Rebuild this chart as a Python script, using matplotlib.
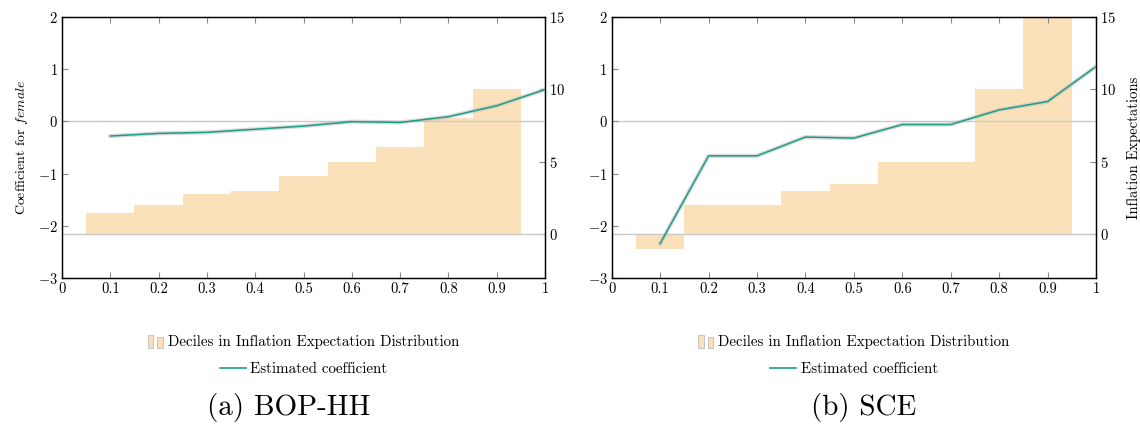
import matplotlib
matplotlib.use("Agg")
import matplotlib.pyplot as plt
from matplotlib.patches import Rectangle
from matplotlib.legend_handler import HandlerBase
from matplotlib.lines import Line2D

plt.rcParams['font.family'] = 'serif'
plt.rcParams['font.serif'] = ['cmr10']
plt.rcParams['mathtext.fontset'] = 'cm'
plt.rcParams['axes.formatter.use_mathtext'] = True
plt.rcParams['axes.unicode_minus'] = True

# ---- data ----
quantiles = [0.1, 0.2, 0.3, 0.4, 0.5, 0.6, 0.7, 0.8, 0.9, 1.0]
bar_centers = [0.1, 0.2, 0.3, 0.4, 0.5, 0.6, 0.7, 0.8, 0.9]

bop_coef = [-0.28, -0.23, -0.21, -0.15, -0.09, -0.005, -0.02, 0.09, 0.30, 0.61]
bop_deciles = [1.5, 2.0, 2.8, 3.0, 4.0, 5.0, 6.0, 8.0, 10.0]

sce_coef = [-2.34, -0.66, -0.66, -0.30, -0.32, -0.06, -0.06, 0.22, 0.38, 1.05]
sce_deciles = [-1.0, 2.0, 2.0, 3.0, 3.5, 5.0, 5.0, 10.0, 15.0]

xticks = [0, 0.1, 0.2, 0.3, 0.4, 0.5, 0.6, 0.7, 0.8, 0.9, 1]
xticklabels = ['0', '0.1', '0.2', '0.3', '0.4', '0.5', '0.6', '0.7', '0.8', '0.9', '1']
left_yticks = [-3, -2, -1, 0, 1, 2]
right_yticks = [0, 5, 10, 15]
captions = ['(a) BOP-HH', '(b) SCE']
legend_labels = ['Deciles in Inflation Expectation Distribution', 'Estimated coefficient']

bar_color = '#fbe1b9'
line_color = '#1b9e86'
grid_gray = '#c8c8c8'


class TwoBarHandler(HandlerBase):
    def create_artists(self, legend, orig_handle, xdescent, ydescent,
                       width, height, fontsize, trans):
        w = width * 0.36
        h = height * 1.3
        y0 = -ydescent - 0.2 * height
        r1 = Rectangle((xdescent, y0), w, h,
                       facecolor=bar_color, edgecolor='#c4c4c4', lw=0.7, transform=trans)
        r2 = Rectangle((xdescent + width * 0.62, y0), w, h * 0.85,
                       facecolor=bar_color, edgecolor='#c4c4c4', lw=0.7, transform=trans)
        return [r1, r2]


fig = plt.figure(figsize=(11.4, 4.3), dpi=100)
positions = [[0.0544, 0.3535, 0.4237, 0.607], [0.5366, 0.3535, 0.4248, 0.607]]
coefs = [bop_coef, sce_coef]
deciles = [bop_deciles, sce_deciles]
caption_x = [289 / 1140, 864 / 1140]

for i in range(2):
    ax = fig.add_axes(positions[i])
    ax2 = ax.twinx()
    ax2.bar(bar_centers, deciles[i], width=0.1, color=bar_color, edgecolor='none', zorder=1)
    ax2.axhline(0, color=grid_gray, lw=1.0, zorder=2)
    ax2.set_ylim(-3, 15)
    ax2.set_yticks(right_yticks)
    ax.set_zorder(ax2.get_zorder() + 1)
    ax.patch.set_visible(False)
    ax.axhline(0, color=grid_gray, lw=1.0, zorder=1)
    ax.plot(quantiles, coefs[i], color='#bdbdbd', lw=3.0, alpha=0.55, zorder=2)
    ax.plot(quantiles, coefs[i], color=line_color, lw=1.1, zorder=3)
    ax.set_xlim(0, 1)
    ax.set_ylim(-3, 2)
    ax.set_xticks(xticks)
    ax.set_xticklabels(xticklabels)
    ax.set_yticks(left_yticks)
    for a in (ax, ax2):
        a.tick_params(direction='in', length=4, width=0.8, color='#888888', labelsize=10.5, pad=3)
        for s in a.spines.values():
            s.set_linewidth(0.9)
    ax.tick_params(axis='x', top=True)
    if i == 0:
        ax.set_ylabel(r'Coefficient for $\mathit{female}$', fontsize=10, labelpad=6)
    else:
        ax2.set_ylabel('Inflation Expectations', fontsize=10.5, labelpad=8)

    cx = positions[i][0] + positions[i][2] / 2
    leg1 = fig.legend([Rectangle((0, 0), 1, 1, facecolor=bar_color)], [legend_labels[0]],
                      loc='center', bbox_to_anchor=(cx, 1 - 342 / 430), frameon=False,
                      fontsize=10.8, handlelength=1.0, handletextpad=0.3, borderpad=0,
                      handler_map={Rectangle: TwoBarHandler()})
    leg2 = fig.legend([Line2D([0], [0], color=line_color, lw=1.2)], [legend_labels[1]],
                      loc='center', bbox_to_anchor=(cx, 1 - 369 / 430), frameon=False,
                      fontsize=10.8, handlelength=1.75, handletextpad=0.3, borderpad=0)
    fig.text(caption_x[i], 1 - 408 / 430, captions[i], ha='center', va='center', fontsize=21)

fig.savefig('out.png', dpi=100)
